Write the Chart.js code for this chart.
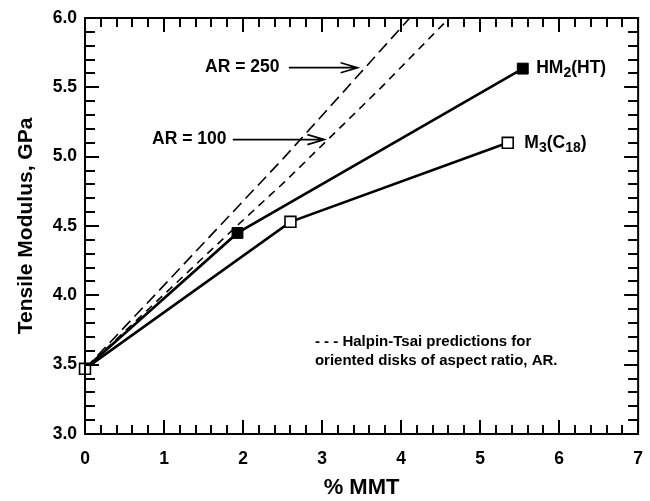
<!DOCTYPE html>
<html><head><meta charset="utf-8">
<script src="https://cdn.jsdelivr.net/npm/chart.js@4"></script>
<style>html,body{margin:0;padding:0;background:#fff}#wrap{width:650px;height:501px}</style>
</head><body><div id="wrap"><canvas id="c" width="650" height="501"></canvas></div>
<script>
// ---- data ----
const hm2X = [0, 1.93, 5.54];
const hm2Y = [3.47, 4.45, 5.635];
const m3X = [0, 2.60, 5.35];
const m3Y = [3.47, 4.53, 5.10];
const ar250X = [0, 0.88, 2.53, 3.29, 4.11];
const ar250Y = [3.47, 4.00, 5.00, 5.48, 6.00];
const ar100X = [0, 1.92, 2.53, 3.75, 4.61];
const ar100Y = [3.47, 4.50, 4.82, 5.50, 6.00];
const xTickValues = [0, 1, 2, 3, 4, 5, 6, 7];
const yTickValues = [3.0, 3.5, 4.0, 4.5, 5.0, 5.5, 6.0];
const xTitle = '% MMT';
const yTitle = 'Tensile Modulus, GPa';

const FONT = '"Liberation Sans", Arial, Helvetica, sans-serif';
const pts = (xs, ys) => xs.map((x, i) => ({x: x, y: ys[i]}));

// annotation placement (in data units)
const notes = {
  ar250: {text: 'AR = 250', x: 1.52, y: 5.642, ax1: 2.58, ax2: 3.45},
  ar100: {text: 'AR = 100', xr: 1.79, y: 5.123, ax1: 1.87, ax2: 3.03},
  hm2: {parts: [['HM', 0], ['2', 1], ['(HT)', 0]], x: 5.71, y: 5.635},
  m3: {parts: [['M', 0], ['3', 1], ['(C', 0], ['18', 1], [')', 0]], x: 5.56, y: 5.10},
  legend1: {text: '- - - Halpin-Tsai predictions for', x: 2.91, y: 3.665},
  legend2: {text: 'oriented disks of aspect ratio, AR.', x: 2.91, y: 3.527}
};

function drawRich(ctx, parts, x, y, size) {
  let cx = x;
  ctx.textAlign = 'left';
  ctx.textBaseline = 'middle';
  parts.forEach(([t, sub]) => {
    const s = sub ? Math.round(size * 0.8) : size;
    ctx.font = 'bold ' + s + 'px ' + FONT;
    ctx.fillText(t, cx, sub ? y + 5 : y);
    cx += ctx.measureText(t).width;
  });
}

function arrow(ctx, x1, x2, y) {
  ctx.beginPath();
  ctx.moveTo(x1, y); ctx.lineTo(x2, y);
  ctx.moveTo(x2 - 17, y - 5); ctx.lineTo(x2, y); ctx.lineTo(x2 - 17, y + 5);
  ctx.stroke();
}

const framePlugin = {
  id: 'frameTicks',
  afterDraw(chart) {
    const ctx = chart.ctx, a = chart.chartArea;
    const xs = chart.scales.x, ys = chart.scales.y;
    ctx.save();
    ctx.strokeStyle = '#000';
    ctx.lineWidth = 2;
    ctx.strokeRect(a.left, a.top, a.right - a.left, a.bottom - a.top);
    ctx.beginPath();
    for (let i = 0; i <= 35; i++) {
      const v = i / 5;
      const px = Math.round(xs.getPixelForValue(v));
      const L = (i % 5 === 0) ? 14 : 9;
      ctx.moveTo(px, a.bottom); ctx.lineTo(px, a.bottom - L);
      ctx.moveTo(px, a.top); ctx.lineTo(px, a.top + L);
    }
    for (let i = 30; i <= 60; i++) {
      const v = i / 10;
      const py = Math.round(ys.getPixelForValue(v));
      const L = (i % 5 === 0) ? 14 : 10;
      ctx.moveTo(a.left, py); ctx.lineTo(a.left + L, py);
      ctx.moveTo(a.right, py); ctx.lineTo(a.right - L, py);
    }
    ctx.stroke();

    // annotations
    ctx.fillStyle = '#000';
    ctx.lineWidth = 1.6;
    const X = v => xs.getPixelForValue(v), Y = v => ys.getPixelForValue(v);
    ctx.font = 'bold 17.5px ' + FONT;
    ctx.textBaseline = 'middle';
    ctx.textAlign = 'left';
    ctx.fillText(notes.ar250.text, X(notes.ar250.x), Y(notes.ar250.y));
    arrow(ctx, X(notes.ar250.ax1), X(notes.ar250.ax2), Y(notes.ar250.y));
    ctx.textAlign = 'right';
    ctx.fillText(notes.ar100.text, X(notes.ar100.xr), Y(notes.ar100.y));
    arrow(ctx, X(notes.ar100.ax1), X(notes.ar100.ax2), Y(notes.ar100.y));
    drawRich(ctx, notes.hm2.parts, X(notes.hm2.x), Y(notes.hm2.y), 17.5);
    drawRich(ctx, notes.m3.parts, X(notes.m3.x), Y(notes.m3.y), 17.5);
    ctx.font = 'bold 15px ' + FONT;
    ctx.textAlign = 'left';
    ctx.fillText(notes.legend1.text, X(notes.legend1.x), Y(notes.legend1.y));
    ctx.fillText(notes.legend2.text, X(notes.legend2.x), Y(notes.legend2.y));
    ctx.restore();
  }
};

new Chart(document.getElementById('c'), {
  type: 'scatter',
  data: {
    datasets: [
      {label: 'M3(C18)', data: pts(m3X, m3Y), showLine: true, borderColor: '#000', borderWidth: 2.6,
       pointStyle: 'rect', pointRadius: 7.7, pointBackgroundColor: '#fff', pointBorderColor: '#000',
       pointBorderWidth: 1.6, clip: false},
      {label: 'HM2(HT)', data: pts(hm2X, hm2Y), showLine: true, borderColor: '#000', borderWidth: 2.6,
       pointStyle: 'rect', pointRadius: [0, 7.7, 7.7], pointBackgroundColor: '#000', pointBorderColor: '#000',
       pointBorderWidth: 1, clip: false},
      {label: 'AR = 250', data: pts(ar250X, ar250Y), showLine: true, borderColor: '#000', borderWidth: 1.6,
       borderDash: [12, 6], pointRadius: 0, tension: 0},
      {label: 'AR = 100', data: pts(ar100X, ar100Y), showLine: true, borderColor: '#000', borderWidth: 1.6,
       borderDash: [8, 6], pointRadius: 0, tension: 0}
    ]
  },
  options: {
    responsive: false,
    animation: false,
    devicePixelRatio: 1,
    layout: {padding: {top: 18, right: 5, left: 0, bottom: 0}},
    plugins: {legend: {display: false}, tooltip: {enabled: false}},
    scales: {
      x: {
        type: 'linear', min: 0, max: 7,
        afterBuildTicks: s => { s.ticks = xTickValues.map(v => ({value: v})); },
        afterFit: s => { s.height = 67; },
        grid: {display: false}, border: {display: false},
        ticks: {color: '#000', font: {family: FONT, size: 17.5, weight: 'bold'}, padding: 7,
                callback: v => String(v)},
        title: {display: true, text: xTitle, color: '#000', font: {family: FONT, size: 22, weight: 'bold'},
                padding: {top: 0, bottom: 0}}
      },
      y: {
        type: 'linear', min: 3, max: 6,
        afterBuildTicks: s => { s.ticks = yTickValues.map(v => ({value: v})); },
        afterFit: s => { s.width = 85; },
        grid: {display: false}, border: {display: false},
        ticks: {color: '#000', font: {family: FONT, size: 17.5, weight: 'bold'}, padding: 0,
                callback: v => Number(v).toFixed(1)},
        title: {display: true, text: yTitle, color: '#000', font: {family: FONT, size: 21, weight: 'bold'},
                padding: {top: 14, bottom: 0}}
      }
    }
  },
  plugins: [framePlugin]
});
</script></body></html>
